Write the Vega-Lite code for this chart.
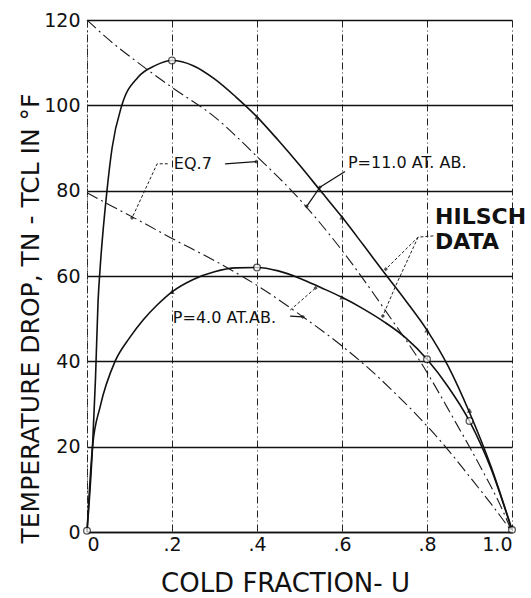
{
  "$schema": "https://vega.github.io/schema/vega-lite/v6.json",
  "width": 425,
  "height": 512,
  "autosize": {"type": "none"},
  "padding": {"left": 87, "top": 20, "right": 19, "bottom": 66},
  "background": "white",
  "config": {"view": {"stroke": null}, "font": "DejaVu Sans"},
  "datasets": {
    "hilsch": [
      {"series": "P11", "u": 0, "t": 0}, {"series": "P11", "u": 0.013, "t": 20}, {"series": "P11", "u": 0.02, "t": 36}, {"series": "P11", "u": 0.026, "t": 54}, {"series": "P11", "u": 0.031, "t": 62}, {"series": "P11", "u": 0.047, "t": 80}, {"series": "P11", "u": 0.059, "t": 90}, {"series": "P11", "u": 0.082, "t": 100}, {"series": "P11", "u": 0.12, "t": 106.6}, {"series": "P11", "u": 0.16, "t": 109.3}, {"series": "P11", "u": 0.2, "t": 110.5}, {"series": "P11", "u": 0.25, "t": 109.3}, {"series": "P11", "u": 0.3, "t": 106.2}, {"series": "P11", "u": 0.35, "t": 102}, {"series": "P11", "u": 0.4, "t": 97.3}, {"series": "P11", "u": 0.45, "t": 91.8}, {"series": "P11", "u": 0.5, "t": 86}, {"series": "P11", "u": 0.55, "t": 79.9}, {"series": "P11", "u": 0.6, "t": 73.8}, {"series": "P11", "u": 0.65, "t": 67.3}, {"series": "P11", "u": 0.7, "t": 60.7}, {"series": "P11", "u": 0.75, "t": 54.2}, {"series": "P11", "u": 0.8, "t": 47.3}, {"series": "P11", "u": 0.85, "t": 38.8}, {"series": "P11", "u": 0.9, "t": 28}, {"series": "P11", "u": 0.95, "t": 15.5}, {"series": "P11", "u": 1.0, "t": 0.5},
      {"series": "P4", "u": 0, "t": 0}, {"series": "P4", "u": 0.013, "t": 20}, {"series": "P4", "u": 0.031, "t": 29.4}, {"series": "P4", "u": 0.066, "t": 40}, {"series": "P4", "u": 0.1, "t": 45.5}, {"series": "P4", "u": 0.132, "t": 49.7}, {"series": "P4", "u": 0.165, "t": 53.2}, {"series": "P4", "u": 0.2, "t": 56.3}, {"series": "P4", "u": 0.25, "t": 59.2}, {"series": "P4", "u": 0.3, "t": 61}, {"series": "P4", "u": 0.35, "t": 61.9}, {"series": "P4", "u": 0.4, "t": 62}, {"series": "P4", "u": 0.45, "t": 61.2}, {"series": "P4", "u": 0.5, "t": 59.5}, {"series": "P4", "u": 0.55, "t": 57.3}, {"series": "P4", "u": 0.6, "t": 55}, {"series": "P4", "u": 0.65, "t": 52.3}, {"series": "P4", "u": 0.7, "t": 49.2}, {"series": "P4", "u": 0.75, "t": 45.5}, {"series": "P4", "u": 0.8, "t": 40.5}, {"series": "P4", "u": 0.85, "t": 34}, {"series": "P4", "u": 0.9, "t": 26}, {"series": "P4", "u": 0.95, "t": 15}, {"series": "P4", "u": 1.0, "t": 0.5}
    ],
    "eq7": [
      {"series": "P11", "u": 0, "t": 120}, {"series": "P11", "u": 0.05, "t": 115.5}, {"series": "P11", "u": 0.12, "t": 110}, {"series": "P11", "u": 0.2, "t": 104.2}, {"series": "P11", "u": 0.3, "t": 97.3}, {"series": "P11", "u": 0.4, "t": 88}, {"series": "P11", "u": 0.5, "t": 78}, {"series": "P11", "u": 0.6, "t": 66}, {"series": "P11", "u": 0.7, "t": 52.2}, {"series": "P11", "u": 0.8, "t": 37.4}, {"series": "P11", "u": 0.86, "t": 27}, {"series": "P11", "u": 0.93, "t": 14.5}, {"series": "P11", "u": 0.97, "t": 6.8}, {"series": "P11", "u": 1.0, "t": 0},
      {"series": "P4", "u": 0, "t": 79.5}, {"series": "P4", "u": 0.06, "t": 76.3}, {"series": "P4", "u": 0.13, "t": 72.6}, {"series": "P4", "u": 0.2, "t": 68.8}, {"series": "P4", "u": 0.3, "t": 63.6}, {"series": "P4", "u": 0.4, "t": 57.8}, {"series": "P4", "u": 0.5, "t": 51}, {"series": "P4", "u": 0.6, "t": 43.6}, {"series": "P4", "u": 0.67, "t": 37.7}, {"series": "P4", "u": 0.72, "t": 33}, {"series": "P4", "u": 0.78, "t": 27}, {"series": "P4", "u": 0.85, "t": 19.2}, {"series": "P4", "u": 0.9, "t": 13}, {"series": "P4", "u": 0.95, "t": 6.7}, {"series": "P4", "u": 1.0, "t": 0}
    ],
    "leadersSolid": [
      {"id": "eqR", "k": 0, "u": 0.325, "t": 86.3}, {"id": "eqR", "k": 1, "u": 0.398, "t": 86.8},
      {"id": "p11a", "k": 0, "u": 0.607, "t": 84.5}, {"id": "p11a", "k": 1, "u": 0.548, "t": 80.8},
      {"id": "p11b", "k": 0, "u": 0.548, "t": 80.8}, {"id": "p11b", "k": 1, "u": 0.517, "t": 76.3},
      {"id": "p4b", "k": 0, "u": 0.478, "t": 50.6}, {"id": "p4b", "k": 1, "u": 0.508, "t": 50.4}
    ],
    "leadersDotted": [
      {"id": "eqL", "k": 0, "u": 0.19, "t": 86.3}, {"id": "eqL", "k": 1, "u": 0.165, "t": 86.3}, {"id": "eqL", "k": 2, "u": 0.106, "t": 73.6},
      {"id": "hA", "k": 0, "u": 0.815, "t": 69.4}, {"id": "hA", "k": 1, "u": 0.779, "t": 69.1}, {"id": "hA", "k": 2, "u": 0.703, "t": 61.6},
      {"id": "hB", "k": 0, "u": 0.779, "t": 69.1}, {"id": "hB", "k": 1, "u": 0.725, "t": 57.4}, {"id": "hB", "k": 2, "u": 0.696, "t": 50.6},
      {"id": "p4a", "k": 0, "u": 0.478, "t": 52}, {"id": "p4a", "k": 1, "u": 0.538, "t": 57.2}
    ],
    "heads": [
      {"u": 0.398, "t": 86.8}, {"u": 0.106, "t": 73.6}, {"u": 0.548, "t": 80.8}, {"u": 0.517, "t": 76.3}, {"u": 0.703, "t": 61.6}, {"u": 0.696, "t": 50.6}, {"u": 0.538, "t": 57.2}, {"u": 0.508, "t": 50.4}
    ],
    "openPts": [
      {"u": 0, "t": 0.3}, {"u": 0.2, "t": 110.5}, {"u": 0.4, "t": 62}, {"u": 0.8, "t": 40.5}, {"u": 0.9, "t": 26}, {"u": 1.0, "t": 0.5}
    ],
    "smallPts": [
      {"u": 0.4, "t": 97.3}, {"u": 0.6, "t": 73.8}, {"u": 0.8, "t": 47.3}, {"u": 0.9, "t": 28.5}, {"u": 0.2, "t": 56.3}, {"u": 0.6, "t": 55}
    ]
  },
  "encoding": {
    "x": {"field": "u", "type": "quantitative", "scale": {"domain": [0, 1], "nice": false}},
    "y": {"field": "t", "type": "quantitative", "scale": {"domain": [0, 120], "nice": false}}
  },
  "layer": [
    {
      "data": {"name": "eq7"},
      "mark": {"type": "line", "color": "#1a1a1a", "strokeWidth": 1.1, "strokeDash": [12, 4, 2, 4], "interpolate": "monotone"},
      "encoding": {
        "x": {"field": "u", "type": "quantitative", "scale": {"domain": [0, 1], "nice": false},
          "axis": {
            "values": [0, 0.2, 0.4, 0.6, 0.8, 1.0],
            "labelExpr": "datum.value == 0 ? '0' : datum.value == 1 ? '1.0' : '.' + round(datum.value * 10)",
            "grid": true, "gridColor": "#222", "gridWidth": 1, "gridDash": [7, 3, 1, 3],
            "domain": true, "domainColor": "#111", "domainWidth": 1.6,
            "ticks": false, "labelFontSize": 19, "labelPadding": 3, "labelColor": "#111", "labelFont": "DejaVu Sans",
            "title": "COLD  FRACTION- U", "titleFontSize": 26, "titleFontWeight": "normal", "titleColor": "#111", "titleFont": "DejaVu Sans",
            "titleX": 198, "titleY": 51, "titleAlign": "center", "titleBaseline": "middle"
          }},
        "y": {"field": "t", "type": "quantitative", "scale": {"domain": [0, 120], "nice": false},
          "axis": {
            "values": [0, 20, 40, 60, 80, 100, 120],
            "grid": true, "gridColor": "#111", "gridWidth": 1.6,
            "domain": true, "domainColor": "#333", "domainWidth": 1, "domainDash": [2, 3],
            "ticks": false, "labelFontSize": 19, "labelPadding": 7, "labelColor": "#111", "labelFont": "DejaVu Sans",
            "title": "TEMPERATURE DROP, TN - TCL IN °F", "titleFontSize": 25, "titleFontWeight": "normal", "titleColor": "#111", "titleFont": "DejaVu Sans",
            "titleAngle": 270, "titleX": -57, "titleY": 298, "titleAlign": "center", "titleBaseline": "middle"
          }},
        "detail": {"field": "series"}
      }
    },
    {
      "data": {"name": "hilsch"},
      "mark": {"type": "line", "color": "#111", "strokeWidth": 1.6, "interpolate": "monotone"},
      "encoding": {"detail": {"field": "series"}}
    },
    {
      "data": {"name": "leadersSolid"},
      "mark": {"type": "line", "color": "#111", "strokeWidth": 1.3},
      "encoding": {"detail": {"field": "id"}, "order": {"field": "k"}}
    },
    {
      "data": {"name": "leadersDotted"},
      "mark": {"type": "line", "color": "#222", "strokeWidth": 1, "strokeDash": [3, 2]},
      "encoding": {"detail": {"field": "id"}, "order": {"field": "k"}}
    },
    {
      "data": {"name": "heads"},
      "mark": {"type": "point", "filled": true, "color": "#111", "size": 18, "shape": "diamond"}
    },
    {
      "data": {"name": "smallPts"},
      "mark": {"type": "point", "filled": true, "color": "#111", "size": 28, "shape": "triangle-up"}
    },
    {
      "data": {"name": "openPts"},
      "mark": {"type": "point", "filled": true, "fill": "white", "stroke": "#111", "strokeWidth": 1.3, "size": 45, "shape": "circle", "clip": false}
    },
    {
      "data": {"values": [{"u": 0.249, "t": 86.3, "label": "EQ.7"}]},
      "mark": {"type": "text", "fontSize": 16, "color": "#111", "align": "center", "baseline": "middle", "font": "DejaVu Sans"},
      "encoding": {"text": {"field": "label"}}
    },
    {
      "data": {"values": [{"u": 0.614, "t": 86.5, "label": "P=11.0 AT. AB."}, {"u": 0.202, "t": 50.2, "label": "P=4.0 AT.AB."}]},
      "mark": {"type": "text", "fontSize": 16, "color": "#111", "align": "left", "baseline": "middle", "font": "DejaVu Sans"},
      "encoding": {"text": {"field": "label"}}
    },
    {
      "data": {"values": [{"u": 0.819, "t": 73.8, "label": "HILSCH"}, {"u": 0.819, "t": 68, "label": "DATA"}]},
      "mark": {"type": "text", "fontSize": 22, "fontWeight": "bold", "color": "#111", "align": "left", "baseline": "middle", "font": "DejaVu Sans", "clip": false},
      "encoding": {"text": {"field": "label"}}
    }
  ]
}
